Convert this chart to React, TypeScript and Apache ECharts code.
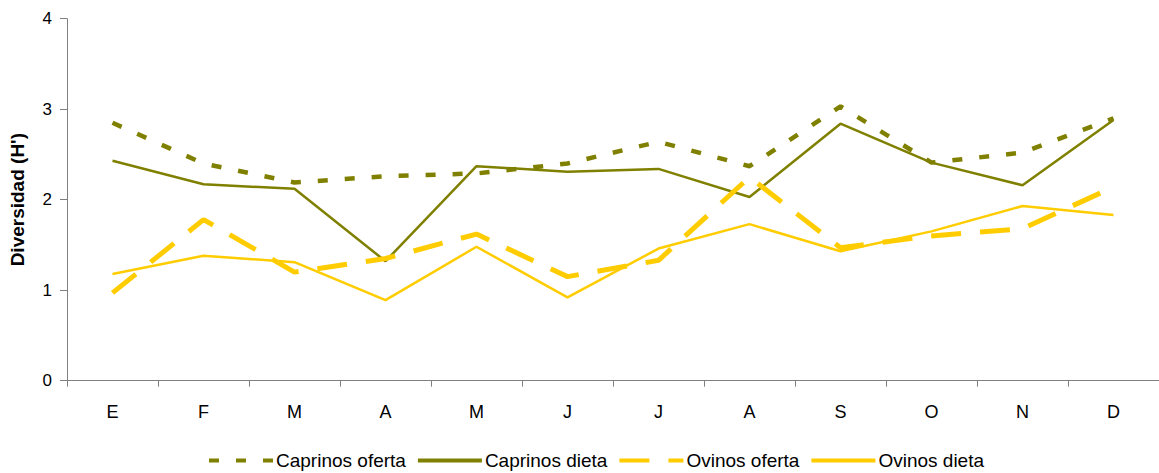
import React, { useEffect, useRef } from "react";
import * as echarts from "echarts";

const months = ["E", "F", "M", "A", "M", "J", "J", "A", "S", "O", "N", "D"];
const caprinosOferta = [2.85, 2.4, 2.19, 2.26, 2.29, 2.4, 2.64, 2.37, 3.03, 2.41, 2.52, 2.9];
const caprinosDieta = [2.43, 2.17, 2.12, 1.32, 2.37, 2.31, 2.34, 2.03, 2.84, 2.41, 2.16, 2.88];
const ovinosOferta = [0.97, 1.78, 1.2, 1.35, 1.62, 1.15, 1.33, 2.25, 1.47, 1.6, 1.68, 2.14];
const ovinosDieta = [1.18, 1.38, 1.31, 0.89, 1.48, 0.92, 1.46, 1.73, 1.43, 1.65, 1.93, 1.83];
const yTicks = [0, 1, 2, 3, 4];

const OLIVE = "#808000";
const YELLOW = "#FFCC00";
const FONT = "Arial, 'Liberation Sans', sans-serif";

export default function App() {
  const ref = useRef<HTMLDivElement>(null);
  useEffect(() => {
    if (!ref.current) return;
    const chart = echarts.init(ref.current, null, { renderer: "svg" });
    chart.setOption({
      animation: false,
      backgroundColor: "#fff",
      grid: { left: 67, top: 18.7, bottom: 92.3, right: -5.7, containLabel: false },
      legend: {
        left: 207,
        top: 451,
        padding: 0,
        itemWidth: 64,
        itemHeight: 20,
        itemGap: 10,
        itemStyle: { opacity: 0 },
        lineStyle: { width: 4 },
        textStyle: { fontFamily: FONT, fontSize: 19, color: "#000", padding: [0, 0, 0, -2] },
        data: ["Caprinos oferta", "Caprinos dieta", "Ovinos oferta", "Ovinos dieta"],
      },
      xAxis: {
        type: "category",
        data: months,
        boundaryGap: true,
        axisLine: { show: true, lineStyle: { color: "#808080", width: 1 } },
        axisTick: { show: true, length: 6, alignWithLabel: false, lineStyle: { color: "#808080" } },
        axisLabel: { interval: 0, margin: 22, fontFamily: FONT, fontSize: 18, color: "#000" },
        splitLine: { show: false },
      },
      yAxis: {
        type: "value",
        min: yTicks[0],
        max: yTicks[yTicks.length - 1],
        interval: 1,
        name: "Diversidad (H')",
        nameLocation: "middle",
        nameGap: 40,
        nameTextStyle: { fontFamily: FONT, fontSize: 19, fontWeight: "bold", color: "#000" },
        axisLine: { show: true, lineStyle: { color: "#808080", width: 1 } },
        axisTick: { show: true, length: 7, inside: false, lineStyle: { color: "#808080" } },
        axisLabel: { margin: 15, fontFamily: FONT, fontSize: 17, color: "#000" },
        splitLine: { show: false },
      },
      series: [
        {
          name: "Caprinos oferta",
          type: "line",
          data: caprinosOferta,
          symbol: "none",
          lineStyle: { color: OLIVE, width: 4.5, type: [10, 17] },
          itemStyle: { color: OLIVE },
        },
        {
          name: "Caprinos dieta",
          type: "line",
          data: caprinosDieta,
          symbol: "none",
          lineStyle: { color: OLIVE, width: 2.5 },
          itemStyle: { color: OLIVE },
        },
        {
          name: "Ovinos oferta",
          type: "line",
          data: ovinosOferta,
          symbol: "none",
          lineStyle: { color: YELLOW, width: 5, type: [30, 19] },
          itemStyle: { color: YELLOW },
        },
        {
          name: "Ovinos dieta",
          type: "line",
          data: ovinosDieta,
          symbol: "none",
          lineStyle: { color: YELLOW, width: 2.5 },
          itemStyle: { color: YELLOW },
        },
      ],
    });
    return () => chart.dispose();
  }, []);
  return (
    <div
      ref={ref}
      style={{ position: "absolute", left: 0, top: 0, width: 1159, height: 473, background: "#fff" }}
    />
  );
}
